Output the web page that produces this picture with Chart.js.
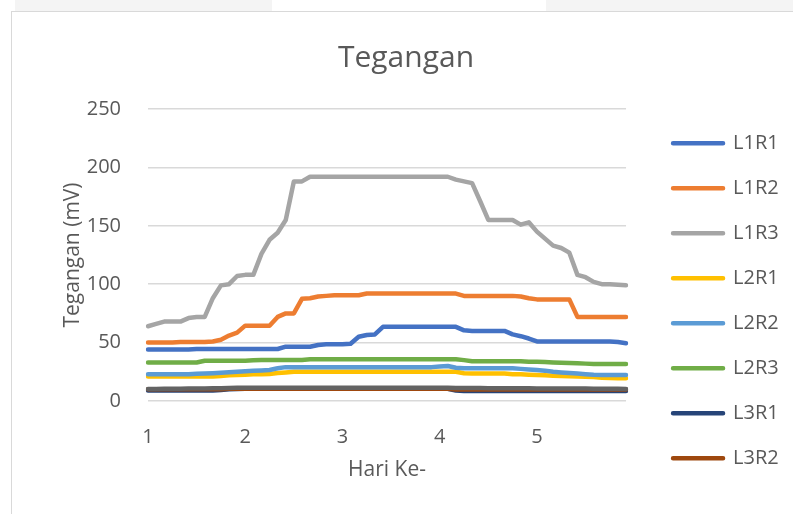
<!DOCTYPE html>
<html>
<head>
<meta charset="utf-8">
<script src="https://cdn.jsdelivr.net/npm/chart.js@4.4.1/dist/chart.umd.min.js"></script>
<style>
    body { margin: 0; background: #fff; width: 793px; height: 514px; overflow: hidden; position: relative; }
    .tab { position: absolute; top: 0; height: 11px; background: #f4f4f4; }
    #frame {
        position: absolute; left: 11px; top: 11px; width: 782px; height: 503px;
        border-left: 1px solid #d9d9d9; border-top: 1px solid #d9d9d9; box-sizing: border-box;
    }
    #frame canvas { display: block; }
</style>
</head>
<body>
<div class="tab" style="left:15px;width:257px"></div>
<div class="tab" style="left:546px;width:247px"></div>
<div id="frame"><canvas id="teganganChart" width="781" height="502"></canvas></div>

<script>
// --- Data ---
const days = ["1", "2", "3", "4", "5"];
const readingsPerDay = 12;

const seriesNames = ["L1R1", "L1R2", "L1R3", "L2R1", "L2R2", "L2R3", "L3R1", "L3R2", "L3R3"];
const seriesColors = ["#4472C4", "#ED7D31", "#A5A5A5", "#FFC000", "#5B9BD5", "#70AD47", "#264478", "#9E480E", "#636363"];

const L1R1 = [
    44, 44, 44, 44, 44, 44, 44.5, 44.5, 44.5, 44.5,
    44.5, 44.5, 44.5, 44.5, 44.5, 44.5, 44.5, 46.5, 46.5, 46.5,
    46.5, 48, 48.5, 48.5, 48.5, 49, 55, 56.5, 57, 63.5,
    63.5, 63.5, 63.5, 63.5, 63.5, 63.5, 63.5, 63.5, 63.5, 60.5,
    60, 60, 60, 60, 60, 57, 55.5, 53.5, 51, 51,
    51, 51, 51, 51, 51, 51, 51, 51, 50.5, 49.5,
];
const L1R2 = [
    50, 50, 50, 50, 50.5, 50.5, 50.5, 50.5, 51, 52.5,
    56, 58.5, 64.5, 64.5, 64.5, 64.5, 72, 75, 75, 87.5,
    88, 89.5, 90, 90.5, 90.5, 90.5, 90.5, 92, 92, 92,
    92, 92, 92, 92, 92, 92, 92, 92, 92, 90,
    90, 90, 90, 90, 90, 90, 89.5, 88, 87, 87,
    87, 87, 87, 72, 72, 72, 72, 72, 72, 72,
];
const L1R3 = [
    64, 66, 68, 68, 68, 71, 72, 72, 88, 99,
    100, 107, 108, 108, 126, 138, 144, 155, 188, 188,
    192, 192, 192, 192, 192, 192, 192, 192, 192, 192,
    192, 192, 192, 192, 192, 192, 192, 192, 189.5, 188,
    186.5, 171, 155, 155, 155, 155, 151, 153, 145, 139,
    133, 131, 127, 108, 106, 102, 100, 100, 99.5, 99,
];
const L2R1 = [
    21, 21, 21, 21, 21, 21, 21, 21, 21, 21.5,
    22, 22.3, 22.5, 22.8, 23, 23.1, 24, 24.5, 25, 25,
    25, 25, 25, 25, 25, 25, 25, 25, 25, 25,
    25, 25, 25, 25, 25, 25, 25, 25, 25, 23.7,
    23.5, 23.5, 23.5, 23.5, 23.5, 23, 22.8, 22.5, 22.3, 22,
    21.7, 21.4, 21.1, 20.9, 20.8, 20.5, 20, 19.7, 19.5, 19.4,
];
const L2R2 = [
    23, 23, 23, 23, 23, 23, 23.3, 23.5, 23.8, 24.2,
    24.6, 25, 25.5, 25.8, 26.2, 26.5, 28, 29, 29, 29,
    29, 29, 29, 29, 29, 29, 29, 29, 29, 29,
    29, 29, 29, 29, 29, 29, 29.5, 30, 28.5, 28,
    28, 28, 28, 28, 28, 28, 27.5, 27, 26.5, 26,
    25, 24.5, 24, 23.5, 23, 22.5, 22.3, 22.3, 22.3, 22.3,
];
const L2R3 = [
    33, 33, 33, 33, 33, 33, 33, 34.5, 34.5, 34.5,
    34.5, 34.5, 34.5, 34.8, 35, 35, 35.2, 35.2, 35.2, 35.2,
    35.7, 35.7, 35.7, 35.7, 35.7, 35.7, 35.7, 35.7, 35.7, 35.7,
    35.7, 35.7, 35.7, 35.7, 35.7, 35.7, 35.7, 35.7, 35.7, 35,
    34, 34, 34, 34, 34, 34, 34, 33.7, 33.5, 33.3,
    33, 32.8, 32.5, 32.3, 32, 31.7, 31.7, 31.7, 31.7, 31.7,
];
const L3R1 = [
    9, 9, 9, 9, 9, 9, 9, 9, 9, 9.5,
    10, 10.3, 10.5, 10.5, 10.5, 10.5, 10.5, 10.5, 10.5, 10.5,
    10.5, 10.5, 10.5, 10.5, 10.5, 10.5, 10.5, 10.5, 10.5, 10.5,
    10.5, 10.5, 10.5, 10.5, 10.5, 10.5, 10.5, 10.5, 9, 8.5,
    8.5, 8.5, 8.5, 8.5, 8.5, 8.5, 8.5, 8.5, 8.5, 8.5,
    8.5, 8.5, 8.5, 8.5, 8.5, 8.5, 8.5, 8.5, 8.5, 8.5,
];
const L3R2 = [
    10, 10, 10, 10, 10, 10, 10, 10, 10, 10,
    10.5, 10.5, 10.5, 10.5, 10.5, 10.5, 10.5, 10.5, 10.5, 10.5,
    10.5, 10.5, 10.5, 10.5, 10.5, 10.5, 10.5, 10.5, 10.5, 10.5,
    10.5, 10.5, 10.5, 10.5, 10.5, 10.5, 10.5, 10.5, 9.8, 9.8,
    9.8, 9.8, 9.8, 9.8, 9.8, 9.8, 9.8, 9.8, 9.8, 9.8,
    9.8, 9.8, 9.8, 9.8, 9.8, 9.8, 9.8, 9.8, 9.8, 9.8,
];
const L3R3 = [
    10.3, 10.3, 10.4, 10.5, 10.5, 10.6, 10.7, 10.8, 10.9, 11,
    11.2, 11.3, 11.3, 11.3, 11.3, 11.3, 11.3, 11.3, 11.3, 11.3,
    11.3, 11.3, 11.3, 11.3, 11.3, 11.3, 11.3, 11.3, 11.3, 11.3,
    11.3, 11.3, 11.3, 11.3, 11.3, 11.3, 11.3, 11.3, 11.2, 11.2,
    11.1, 11.1, 11, 11, 11, 11, 10.9, 10.9, 10.8, 10.8,
    10.7, 10.7, 10.6, 10.6, 10.6, 10.5, 10.5, 10.5, 10.4, 10.3,
];
const seriesValues = [L1R1, L1R2, L1R3, L2R1, L2R2, L2R3, L3R1, L3R2, L3R3];

// one category per reading, only the first reading of a day gets the day number
const labels = [];
days.forEach(d => {
    for (let r = 0; r < readingsPerDay; r++) labels.push(r === 0 ? d : "");
});

// --- Chart setup ---
const textColor = "#595959";
const font = "'Open Sans', 'Liberation Sans', sans-serif";

const datasets = seriesValues.map((vals, i) => ({
    label: seriesNames[i],
    data: vals,
    borderColor: seriesColors[i],
    backgroundColor: seriesColors[i],
    borderWidth: 4.5,
    borderCapStyle: "round",
    borderJoinStyle: "round",
    pointRadius: 0,
    tension: 0,
    order: seriesValues.length - 1 - i, // later series drawn on top, like Excel
}));

const ctx = document.getElementById("teganganChart").getContext("2d");
const teganganChart = new Chart(ctx, {
    type: "line",
    data: { labels: labels, datasets: datasets },
    options: {
        responsive: false,
        animation: false,
        layout: { padding: { left: 11.3, right: 4.3, top: 0, bottom: 0 } },
        scales: {
            x: {
                grid: { display: false, drawTicks: false },
                border: { display: false },
                ticks: {
                    autoSkip: false, maxRotation: 0, padding: 24,
                    color: textColor, font: { family: font, size: 20 },
                },
                title: {
                    display: true, text: "Hari Ke-", color: textColor,
                    font: { family: font, size: 21 },
                    padding: { top: 0, bottom: 31.4 },
                },
                afterFit: s => { s.height = 113; },
            },
            y: {
                min: 0, max: 250,
                grid: { color: "#d9d9d9", lineWidth: 1.5, drawTicks: false },
                border: { display: false },
                ticks: {
                    stepSize: 50, padding: 27,
                    color: textColor, font: { family: font, size: 20 },
                },
                title: {
                    display: true, text: "Tegangan (mV)", color: textColor,
                    font: { family: font, size: 21 },
                    padding: { top: 37.1, bottom: 0 },
                },
                afterFit: s => { s.width = 124.7; },
            },
            // empty spacer between plot and legend
            gap: {
                position: "right",
                grid: { display: false },
                border: { display: false },
                ticks: { display: false },
                afterFit: s => { s.width = 22; },
            },
        },
        plugins: {
            title: {
                display: true, text: "Tegangan", color: textColor,
                font: { family: font, size: 30, weight: "normal" },
                padding: { top: 28, bottom: 33 },
            },
            legend: {
                position: "right",
                align: "start",
                maxWidth: 220,
                title: { display: true, text: " ", padding: { top: 81.9, bottom: 0 } },
                labels: {
                    boxWidth: 50, boxHeight: 0, padding: 25,
                    color: textColor, font: { family: font, size: 20 },
                    sort: (a, b) => a.datasetIndex - b.datasetIndex,
                    filter: item => item.datasetIndex < 8,
                },
            },
            tooltip: { enabled: false },
        },
    },
});
</script>
</body>
</html>
